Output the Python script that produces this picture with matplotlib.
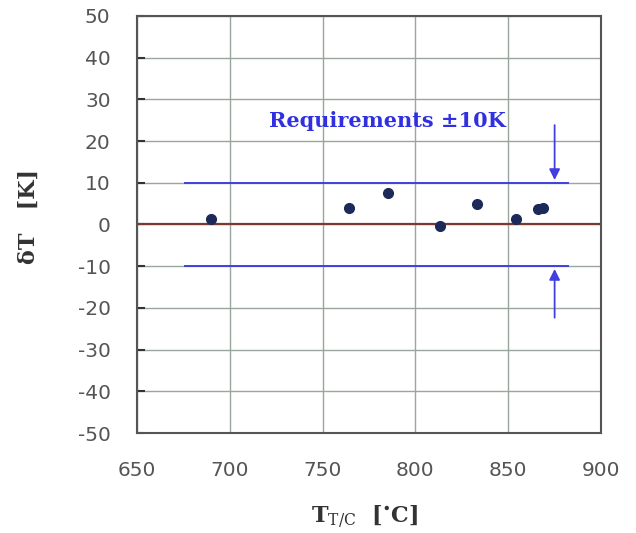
import matplotlib.pyplot as plt
import numpy as np

plt.rcParams["axes.unicode_minus"] = False
plt.rcParams["mathtext.fontset"] = "custom"
plt.rcParams["mathtext.rm"] = "DejaVu Serif"
plt.rcParams["mathtext.bf"] = "DejaVu Serif:bold"
plt.rcParams["mathtext.it"] = "DejaVu Serif:italic"

t_tc = [690, 764, 785, 813, 833, 854, 866, 869]
delta_t = [1.4, 4.0, 7.5, -0.4, 4.8, 1.4, 3.6, 4.0]

req_limit = 10
req_x = [676, 882]
arrow_x = 875
arrow_tail = [24.5, -23]

xticks = [650, 700, 750, 800, 850, 900]
yticks = list(range(-50, 51, 10))

fig = plt.figure(figsize=(6.36, 5.33), dpi=100)
ax = fig.add_axes([0.2154, 0.1876, 0.7296, 0.7824])

ax.set_xlim(650, 900)
ax.set_ylim(-50, 50)
ax.set_xticks(xticks)
ax.set_yticks(yticks)
ax.grid(True, color="#9aa59e", linewidth=1.0)
ax.tick_params(direction="in", length=6, width=1.5, colors="#333333",
               labelcolor="#555555", labelsize=14.5)
ax.tick_params(axis="y", pad=19)
ax.tick_params(axis="x", length=0, pad=20)
for s in ax.spines.values():
    s.set_color("#555555")
    s.set_linewidth(1.5)

# zero line
ax.axhline(0, color="#7a3b2e", linewidth=1.6, zorder=2)

# requirement band
for lim in (req_limit, -req_limit):
    ax.plot(req_x, [lim, lim], color="#4040e0", linewidth=1.4, zorder=3)
ax.annotate("", xy=(arrow_x, req_limit), xytext=(arrow_x, arrow_tail[0]),
            arrowprops=dict(arrowstyle="-|>", color="#4040e0", lw=1.3, mutation_scale=16))
ax.annotate("", xy=(arrow_x, -req_limit), xytext=(arrow_x, arrow_tail[1]),
            arrowprops=dict(arrowstyle="-|>", color="#4040e0", lw=1.3, mutation_scale=16))
ax.text(785, 24.7, "Requirements \u00b110K", color="#3030e0", fontsize=15,
        fontweight="bold", family="DejaVu Serif", ha="center", va="center")

ax.plot(t_tc, delta_t, "o", color="#1c2a5a", markersize=7, zorder=4)

ax.set_xlabel(r"$\mathbf{T}_{\mathrm{T/C}}$  [$^{\bullet}$C]", fontsize=16, fontweight="bold",
              family="DejaVu Serif", color="#333333")
ax.xaxis.set_label_coords(0.49, -0.17)
ax.set_ylabel("\u03b4T   [K]", fontsize=16, fontweight="bold",
              family="DejaVu Serif", color="#333333")
ax.yaxis.set_label_coords(-0.21, 0.52)

fig.savefig("out.png", dpi=100)
